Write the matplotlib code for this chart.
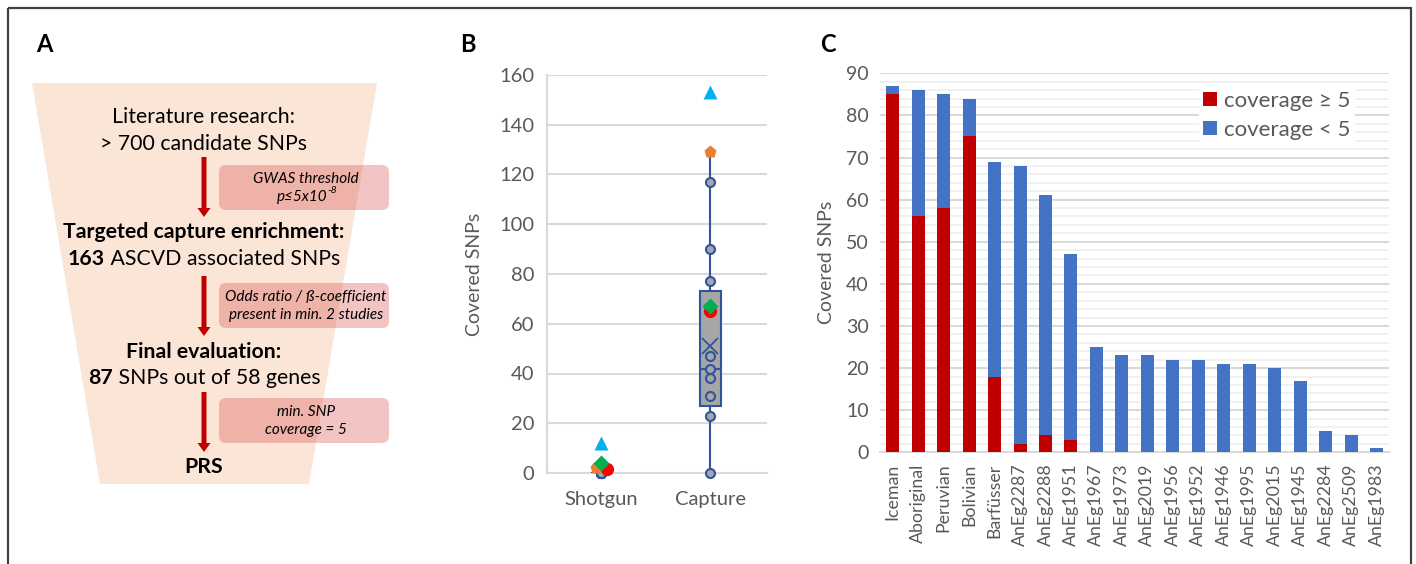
import numpy as np
import matplotlib.pyplot as plt
from matplotlib.patches import Polygon, FancyBboxPatch, Rectangle
from matplotlib.ticker import MultipleLocator

plt.rcParams['font.family'] = ['Lato', 'DejaVu Sans']

#####################################################################
# DATA
#####################################################################

# panel B: covered SNPs per sequencing strategy
methods = ['Shotgun', 'Capture']
capture_points = [0, 23, 31, 38, 42, 47, 77, 90, 117]
shotgun_points = [0, 0, 0, 0, 0, 0, 0, 0, 0]
# box statistics: (whislo, q1, med, q3, whishi, mean)
shotgun_stats = (0, 0, 0, 0, 0, 0.3)
capture_stats = (0, 27, 42, 73, 129, 51)
highlight_markers = ['^', 'p', 'o', 'D']
highlight_colors = ['#00b0f0', '#ed7d31', '#ff0000', '#00b050']
highlight_shotgun = [12, 2, 1.5, 4]
highlight_capture = [153, 129, 65, 67]
highlight_jitter = [0, -0.05, 0.05, 0]

# panel C: covered SNPs per sample
samples = ['Iceman', 'Aboriginal', 'Peruvian', 'Bolivian', 'Barfüsser',
           'AnEg2287', 'AnEg2288', 'AnEg1951', 'AnEg1967', 'AnEg1973',
           'AnEg2019', 'AnEg1956', 'AnEg1952', 'AnEg1946', 'AnEg1995',
           'AnEg2015', 'AnEg1945', 'AnEg2284', 'AnEg2509', 'AnEg1983']
total_snps = [87, 86, 85, 84, 69, 68, 61, 47, 25, 23, 23, 22, 22, 21, 21, 20, 17, 5, 4, 1]
cov_ge5 = [85, 56, 58, 75, 18, 2, 4, 3, 0, 0, 0, 0, 0, 0, 0, 0, 0, 0, 0, 0]
cov_lt5 = [t - g for t, g in zip(total_snps, cov_ge5)]

W, H = 1416, 564
fig = plt.figure(figsize=(W / 100, H / 100), dpi=100)

#####################################################################
# PANEL A (drawn in pixel coordinates)
#####################################################################

ov = fig.add_axes([0, 0, 1, 1], zorder=0)
ov.set_xlim(0, W)
ov.set_ylim(H, 0)
ov.axis('off')

ov.add_patch(Rectangle((8, 8), 1403, 600, fill=False, ec='#404040', lw=1.6))
ov.add_patch(Polygon([(32, 83), (377, 83), (309, 484), (100, 484)],
                     closed=True, fc='#fbe5d6', ec='none'))

for lab, x in [('A', 44), ('B', 468), ('C', 828)]:
	ov.text(x, 45, lab, fontsize=17, fontweight='bold', ha='center', va='center')

renderer = fig.canvas.get_renderer()

def mixedLine(xc, y, parts, size=15.3):
	texts = [ov.text(0, y, s, fontsize=size, fontweight=w, ha='left', va='center')
	         for s, w in parts]
	widths = [t.get_window_extent(renderer).width for t in texts]
	x = xc - sum(widths) / 2
	for t, w in zip(texts, widths):
		t.set_x(x)
		x += w

cx = 204
mixedLine(cx, 117, [('Literature research:', 'normal')])
mixedLine(cx, 144, [('> 700 candidate SNPs', 'normal')])
mixedLine(cx, 232, [('Targeted capture enrichment:', 'bold')])
mixedLine(cx, 259, [('163', 'bold'), (' ASCVD associated SNPs', 'normal')])
mixedLine(cx, 352, [('Final evaluation:', 'bold')])
mixedLine(cx, 378, [('87', 'bold'), (' SNPs out of 58 genes', 'normal')])
mixedLine(cx, 467, [('PRS', 'bold')])

for y0, y1 in [(157, 217), (276, 336), (392, 452)]:
	ov.arrow(cx, y0, 0, y1 - y0, width=5, head_width=13, head_length=9,
	         length_includes_head=True, color='#c00000', lw=0)

boxes = [(165, 'GWAS threshold', 'p≤5x10'),
         (283, 'Odds ratio / ß-coefficient', 'present in min. 2 studies'),
         (398, 'min. SNP', 'coverage = 5')]
for y0, l1, l2 in boxes:
	ov.add_patch(FancyBboxPatch((219, y0), 170, 45,
	             boxstyle='round,pad=0,rounding_size=7',
	             fc=(0.85, 0.3, 0.3), alpha=0.33, ec='none'))
	ov.text(306, y0 + 14, l1, fontsize=11, style='italic', ha='center', va='center')
	t2 = ov.text(306 if l2 != 'p≤5x10' else 302, y0 + 32, l2, fontsize=11,
	             style='italic', ha='center', va='center')
	if l2 == 'p≤5x10':
		ov.annotate('-8', xy=(1, 0.95), xycoords=t2, fontsize=7.5, style='italic',
		            ha='left', va='center')

#####################################################################
# PANEL B
#####################################################################

axB = fig.add_axes([547 / W, 1 - 473 / H, 220 / W, 398 / H], zorder=2)
axB.set_facecolor('none')
blue_dark = '#2f55a0'
stats = []
for name, s in zip(methods, [shotgun_stats, capture_stats]):
	stats.append(dict(label=name, whislo=s[0], q1=s[1], med=s[2], q3=s[3],
	                  whishi=s[4], mean=s[5], fliers=[]))
axB.bxp(stats, positions=[1, 2], widths=0.19, patch_artist=True, showmeans=True,
        showcaps=False,
        boxprops=dict(facecolor='#a6a6a6', edgecolor=blue_dark, lw=1.5),
        medianprops=dict(color=blue_dark, lw=1.5),
        whiskerprops=dict(color=blue_dark, lw=1.5),
        meanprops=dict(marker='x', markeredgecolor=blue_dark, markersize=11,
                       markeredgewidth=1.3),
        zorder=3)
for pos, pts in zip([1, 2], [shotgun_points, capture_points]):
	axB.plot([pos] * len(pts), pts, 'o', ms=6.5, mfc='#a6a6a6', mec=blue_dark,
	         mew=1.5, zorder=4, clip_on=False)
for m, c, ys, yc, j in zip(highlight_markers, highlight_colors, highlight_shotgun,
                           highlight_capture, highlight_jitter):
	axB.plot([1 + j, 2], [ys, yc], m, color=c, ms=9.5 if m != 'D' else 8,
	         mec='none', zorder=5, clip_on=False)

axB.set_xlim(0.5, 2.52)
axB.set_ylim(0, 160)
axB.yaxis.set_major_locator(MultipleLocator(20))
axB.grid(axis='y', color='#d9d9d9', lw=1.5, zorder=0)
axB.set_axisbelow(True)
for side in ['top', 'right']:
	axB.spines[side].set_visible(False)
for side in ['left', 'bottom']:
	axB.spines[side].set_color('#d9d9d9')
	axB.spines[side].set_linewidth(1.5)
axB.tick_params(length=0, labelsize=14.5, colors='#595959', pad=9)
axB.tick_params(axis='x', pad=13)
axB.set_ylabel('Covered SNPs', fontsize=14, color='#595959', labelpad=12)

#####################################################################
# PANEL C
#####################################################################

axC = fig.add_axes([880 / W, 1 - 452.3 / H, 509.3 / W, 379 / H], zorder=2)
axC.set_facecolor('none')
x = np.arange(len(samples))
axC.bar(x, cov_ge5, 0.51, color='#c00000', label='coverage ≥ 5', zorder=3)
axC.bar(x, cov_lt5, 0.51, bottom=cov_ge5, color='#4472c4', label='coverage < 5', zorder=3)
axC.set_xlim(-0.5, len(samples) - 0.5)
axC.set_ylim(0, 90)
axC.yaxis.set_major_locator(MultipleLocator(10))
axC.yaxis.set_minor_locator(MultipleLocator(2))
axC.grid(axis='y', which='major', color='#d9d9d9', lw=1.5, zorder=0)
axC.grid(axis='y', which='minor', color='#efefef', lw=1.2, zorder=0)
axC.set_axisbelow(True)
axC.set_xticks(x)
axC.set_xticklabels(samples, rotation=90)
for side in ['top', 'right', 'left']:
	axC.spines[side].set_visible(False)
axC.spines['bottom'].set_color('#d9d9d9')
axC.spines['bottom'].set_linewidth(1.5)
axC.tick_params(which='both', length=0, labelsize=12.8, colors='#595959', pad=8)
axC.tick_params(axis='y', labelsize=14)
axC.set_ylabel('Covered SNPs', fontsize=14, color='#595959', labelpad=8)
leg = axC.legend(loc='upper right', bbox_to_anchor=(0.955, 0.995), fontsize=16,
                 frameon=True, fancybox=False, edgecolor='none', framealpha=1,
                 handlelength=0.6, handleheight=0.6, handletextpad=0.35,
                 labelspacing=0.4, borderpad=0.2, labelcolor='#595959')

fig.savefig('out.png', dpi=100)
